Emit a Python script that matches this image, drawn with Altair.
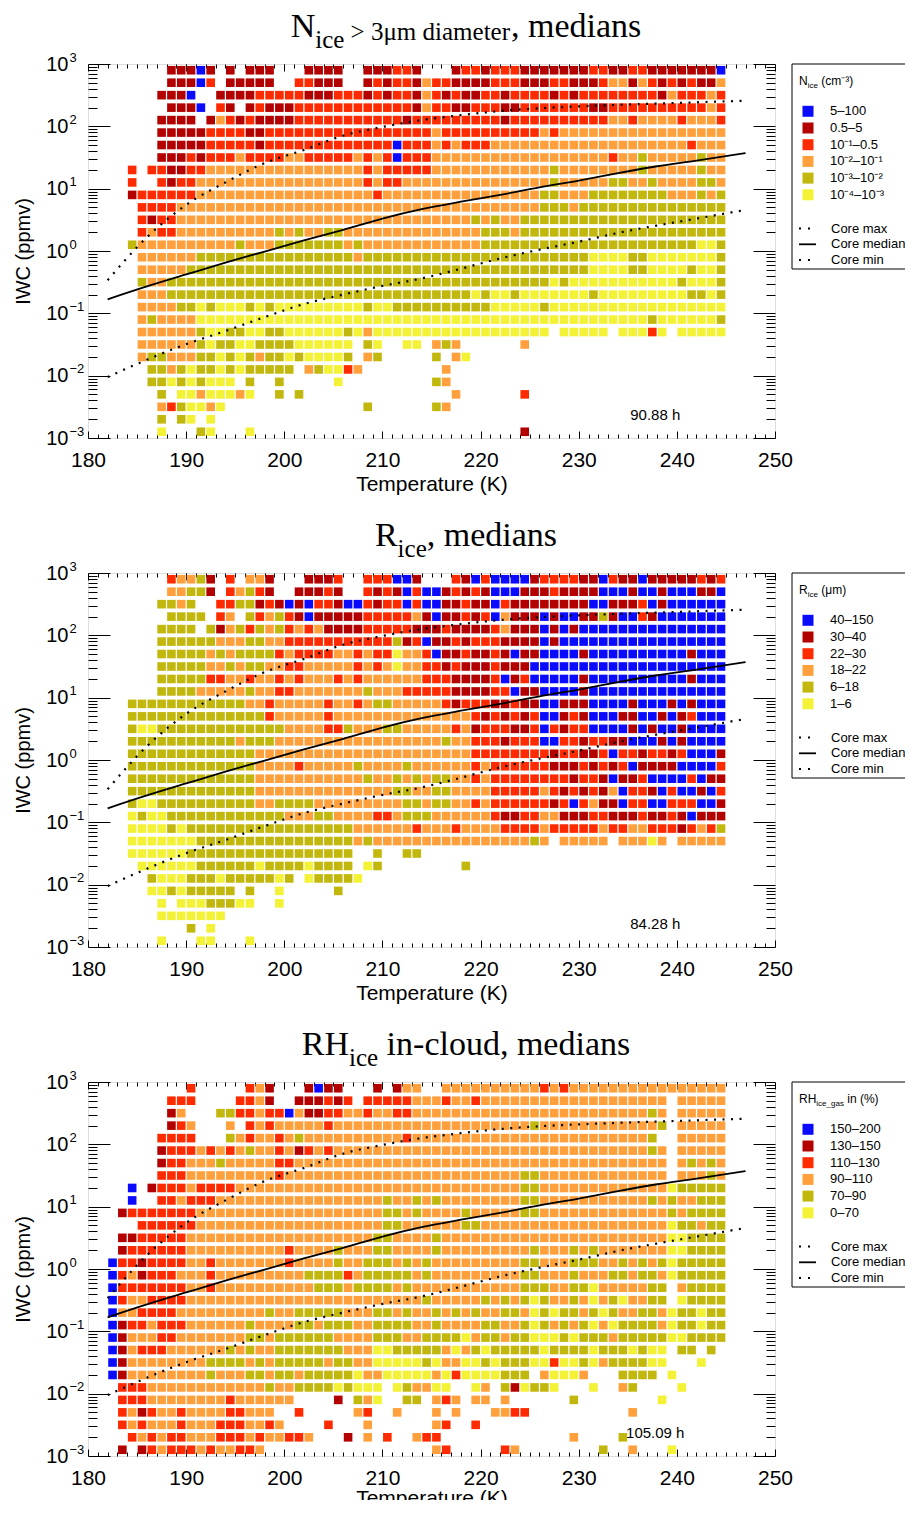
import pandas as pd
import altair as alt

alt.data_transformers.disable_max_rows()

# ---------------------------------------------------------------
# values
# cells: 1 K temperature bins (first centre 182.5 K), 0.2-decade IWC
# bins (top row centre 10^2.9 ppmv). One character per cell, colour
# class in legend order B D R O G Y, "." = no data.
# each row = cold part (182.5-212.5 K, 31 cells) + warm part (213.5-244.5 K, 32 cells)
# ---------------------------------------------------------------
CLASS_CODES = "BDROGY"
CLASS_COLORS = ["#0a0aff", "#b30000", "#ff2b00", "#ffa03c", "#c2b80d", "#f3f236"]

N_LABELS = ["5–100", "0.5–5", "10⁻¹–0.5", "10⁻²–10⁻¹", "10⁻³–10⁻²", "10⁻⁴–10⁻³"]
R_LABELS = ["40–150", "30–40", "22–30", "18–22", "6–18", "1–6"]
RH_LABELS = ["150–200", "130–150", "110–130", "90–110", "70–90", "0–70"]

N_TITLE = [("N", "big"), ("ice", "sub"), (" > 3μm diameter", "mid"), (", medians", "big")]
R_TITLE = [("R", "big"), ("ice", "sub"), (", medians", "big")]
RH_TITLE = [("RH", "big"), ("ice", "sub"), (" in-cloud, medians", "big")]
N_KEY_TITLE = [("N", "big"), ("ice", "sub"), (" (cm⁻³)", "big")]
R_KEY_TITLE = [("R", "big"), ("ice", "sub"), (" (μm)", "big")]
RH_KEY_TITLE = [("RH", "big"), ("ice_gas", "sub"), (" in (%)", "big")]
HOURS = ["90.88 h", "84.28 h", "105.09 h"]

CORE_KINDS = ["Core max", "Core median", "Core min"]
CORE_T = [182, 186, 190, 194, 198, 202, 206, 210, 214, 218, 222, 226, 230, 234, 238, 242, 247]
CORE_MAX = [0.34, 1.66, 5.5, 12.6, 25.7, 41.7, 70.8, 97.7, 126, 151, 176, 195, 209, 221, 232, 243, 257]
CORE_MEDIAN = [0.168, 0.27, 0.42, 0.65, 0.98, 1.48, 2.19, 3.31, 4.68, 6.17, 7.94, 10.5, 13.5, 17.8, 22.9, 28.2, 37.2]
CORE_MIN = [0.0095, 0.018, 0.032, 0.052, 0.087, 0.141, 0.20, 0.275, 0.363, 0.52, 0.76, 1.05, 1.41, 1.95, 2.57, 3.31, 4.57]

N_COLD = [
    "......DDDBD.D.DDD...DDDD..DDDRR",
    "......DDDBR.DDDDD..RRDDD..DRDRR",
    ".....DDDB..DDDDRRRRRDDDRRRDRDRR",
    "......DDDB.RD.DRDDDRRRRRRRRRRRR",
    ".....DDDD.DORDRDDDDRRRRRRRRRRRD",
    ".....DDDDDRRRRDDRRRRRRRRRRRRRRR",
    ".....DDDDDRRRRRDRRRRRRRRRRRRRBR",
    ".....DDDRDRRRORRRROORRRRRORORBR",
    "..R.RRDDRR" "OOOOOOOOOOOOOOOO" "RORRR",
    "..R..RDRR" "OOOOOOOOOOOOOOOOO" "RORRO",
    "..DRRRRRR" "OOOOOOOOOOOOOOOOOO" "ROOO",
    "...RRRR" "OOOOOOOOOOOOOOOOOOOOOOOO",
    "...RDRR" "OOOOOOOOOOOOOOOOOOOOOOOO",
    "...RORR" "OOOOOOOOOO" "GOGOOGG" "OOOOOOO",
    "..G" "OOOOOOOOOO" "GOOO" "GGGGGGG" "OG" "OOOOO",
    "...OOOOOO" "GGGGGGGGGGGGGGGG" "OGGGGG",
    "...OOOOO" "GGGGGGGGGGGGGGGGGGGGGGG",
    "...GOO" "GGGGGGGGGGGGGGGGGGGGGGGGG",
    "...OOO" "GGGGGGGGGGGGGGGGGGGGGGGGG",
    "...OOOOGGYGYYYGYGYYYYYYYYYGYYGG",
    "...OGOOOO" "YYYYYYYYYYYYYYYYYYYYYY",
    "...OOOOOOGYYGGYYGGYYYYYYGYOYYYY",
    "...OOOOOOGYGGYYGGGGYYYYYY.GY..Y",
    "...OGGOOOGGYGYGOGGYGYYYYG.OG...",
    "....GGOGYGGYGYGGGGG.OGYYRO.....",
    "....GGYGYGYYY.G..G.....Y.......",
    ".....G.YYOYYYOY..G.G...........",
    ".....ORGYYOY..............G....",
    ".....G.GY.Y....................",
    ".....Y...GY...Y................",
]
N_WARM = [
    "D...DRRDRRRDDDDDDDRRDDRRDDDDDDDB",
    "DORRDDDDRRRDDDRRDDDROODORDRDRDDO",
    "DORDRDDRRDRRRRDRDRRRRRRRRDORRROR",
    "DORRDDRRRDDRRRRRRRDDRRRRRRRRRROR",
    "RRRRRRRRRDRRRRRRRRRROOROOOOROOOR",
    "RRORRRRRRRRRRORO" "OOOOOOOOOOOOOOOO",
    "RRORORRRO" "OOOOOOOOOOOOOOOOOOO" "ROOO",
    "RRO" "OOOOOOOOOOOOOOOOO" "ROOGOOOOOGOO",
    "RRO" "OOOOOOOOOOO" "G" "OOOOOOOO" "G" "OOOOO" "GOO",
    "OOOOOOOOOOOOOO" "G" "OOOOO" "GGOOG" "OOOO" "GGO",
    "OOOOOOOOOOOOO" "GGOOO" "GGGGGGGG" "OOOGOG",
    "OOOOOOOOOOOOO" "GGGO" "GGGGGGGGGGGGGGG",
    "OOOOOOGOGOO" "GGGGGGGGGGGGGGGGGGGGG",
    "OOOOOOOGGGO" "GGGGGGGGGGGGGGGGGGGGG",
    "OOOOOOO" "GGGGGGGGGGGGGGGGGGGGGG" "YYG",
    "GGGGGGGGGGGGGGGGGG" "YYYYGG" "YYYYYYY" "G",
    "GGGGGGGGGGGGGGGGGG" "YYYYGGYYYYGYYG",
    "GGGGGGGGGGGGGG" "YG" "YYYYYYYYYYY" "GYYYG",
    "GGGGGGYGYYG" "YYYYYYY" "G" "YYYYYYYYY" "GGYG",
    "GGGGGGGG" "YYYYY" "G" "YYYYYYYYYYYYYYYYYY",
    "YYYYYYYYYYYYYYYYYYYYYYYY" "G" "YYYYYY" "G",
    "YYYYYYYYYYYYYY" "." "YYYYY" "." "YYYRY." "YYYYY",
    "Y.OGO" "......" "O",
    "..G.OY",
    "...O",
    "..GO",
    "....O" "......" "R",
    "..GO",
    "",
    "..........." "D",
]

R_COLD = [
    "......ROOGD.R.OOD...DDDR..RRRBB",
    "......OOGGD.ROGRD..DDDRD..RDRDB",
    ".....GGOG..RRGGDRDBDBRRDBBRDRRB",
    "......GGGG.RO.GROGRDBDDDDDRRRRR",
    ".....GGGG.GDOGRGOGRORODDDDRRRRR",
    ".....GGGGGGOOOGGOORRRRRRRRRRRGD",
    ".....GGGGGOGOGGGGRORRRROORORRYO",
    ".....GGGGGOOGOGGOORROOOOOROROYO",
    ".....GGGGGRROOROOROROOOROROOOOO",
    ".....GGGGOOOOOGOORROOOOOOOGOOOR",
    "..GGGGGGGGGGGG" "OOROOOOOROOROGGOO",
    "..GGGGGGGGGGGGGG" "R" "OOOOO" "R" "OOOOOOOO",
    "..GYY" "GGGGGGGGGGGGG" "OOOORRGOOOGGO",
    "..GGGGGGGGGGG" "O" "GGG" "OOOOOOOOOOOOOO",
    "..GGGGGGGGGGGGG" "OOOOOOOOOOOOOOOO",
    "..GGGGGGGGGGGGG" "OOOOROOOOOGOOOOG",
    "..GGGGGGGGGGGGG" "OOOOOOOOOOOGOOGO",
    "..GGGGGGGGGGGGG" "OOOOOOOOOOOOOO" "GG",
    "..GYY" "GGGGGGGGGG" "OOGGGGOOOOOOOOOG",
    "..YGYYG" "GGGGGGGGGGG" "OOOGGOOOORROG",
    "..YYYYGYG" "GGGGGGGGGGGGGGGG" "OOOOOO",
    "..YYYYYYY" "GGGGGGGGGGGGGGGG" "OGOOOO",
    "..YYYYYYG" "GGGGGGGGGGGGGGGG" "..G..G",
    "...YYYYYYGGGGGGYGGGGYGGGG.YG...",
    "....GYYYGGGYGGGGGYG.YGGGGY.....",
    "....YYGYGGGGG.G..Y.....G.......",
    ".....Y.YYYGGGYY..Y.............",
    ".....YYYYYYY...................",
    "........G.Y....................",
    ".....Y...YY...Y................",
]
R_WARM = [
    "D...RDBRBBBBDRRRRDDBRDDBDDDDDRDR",
    "RBBDRDRDBBBDDDRDDDDBBBDBBDBBBDDB",
    "RBBDDRDDBRDDDDDDDDBBDDDRBDBBBBBB",
    "ODBDDRDRBODDDBDBBDDGDBBRDBBBBBBB",
    "DDDRDDDDRODDDBDBD" "BBBBBBBBBBBBBBB",
    "RBDDRDRRRDDDDBDB" "BBBBBBBBBBBBBBBB",
    "ORBDDRDDRDBDDBBBBDB" "BBBBBBBBB" "DBBB",
    "ORRDRDDDRDDD" "BBBBBBBBBBBBBBBBBBBB",
    "ORRRDDDDRBDRBBBBBDB" "BBBBBBBBB" "DBBB",
    "RRRRDDDDRRBDDBBBBDB" "BBBBBBBBBBBBB",
    "OOORDRRRDDRDDBBDDDBBBBDBBBDBDBBB",
    "OOOOOORDRDRDRBBDRDBBBDDBBDBDRBBB",
    "OOOORODRRRDDRBRDRRBBBBDBDBBDBBBB",
    "OOOGOORRRDRRRBBRRDRRDDBBBDBDBBBB",
    "OOOOOORRRRRRRRDRRDDRBRRDRRDRBBBD",
    "OOOOOORORRRRRRDDDRDRDRBDDDDBBBBR",
    "GOGGOORORRRRRRRRDRRDBDDRBBBBRBDD",
    "OOGGOOOORRRRRORDRDRDOBRRDBRBBDBR",
    "GOGGOORORRRRRRDRBRODDBRRBBRRRBBD",
    "GGOOOOOORDDRROODDDRRDDDRDDRDBDDD",
    "ROOOROOOORRRRORRRRRORROORRRDRORG",
    "OOOOOOOOOOOO" "GO.OOOOO.OOOYO.OOOOO",
    "G",
    ".....G",
    "", "", "", "", "", "",
]

RH_COLD = [
    "........R.....ROD...DBDD...D.DO",
    "......RRR....RROD..DDDRDR.RRRRR",
    "......DO...GGRRORRBODDRROOROORR",
    "......DRO...O.ROR" "OOOOO" "R" "OOOOOOOO",
    ".....RRRR...GOROOROG" "OOOOOOOOOO" "R",
    ".....DRRRORORO" "GOOR" "ODROR" "OOOOOOOO",
    ".....DRROOOGOOOOORR" "OOOOOOOOOOOO",
    ".....RRR" "OOOOOOOOO" "R" "OOOOOOOOOOOOO",
    "..B.DRRRORRRR" "OOOOOOOOOOOOOOOOOO",
    "..B..RRORRRO" "OOOOOOOOOOOOOOOO" "GOO",
    ".DRRRRRRR" "OOOOOOOOOOOOOOOOOOO" "GGO",
    "...RRRRRR" "OOOOOOOOOOOOOOOOOOO" "GGO",
    ".DDRRRRR" "OOOOOOOOOOOOOOOOOOO" "GGOO",
    ".DRRRRRR" "OOOOOOOOOO" "R" "OOOO" "G" "OOO" "GGOO",
    "BRRDRRRR" "OOROOOOOOO" "R" "OOOO" "G" "OO" "GGG" "OG",
    "BRODRRRO" "OOROOOOOOOOO" "GGGG" "R" "O" "GGGGG",
    "BRRRRRRR" "OOROOOOOOOOOO" "GGG" "O" "GGGG" "OG",
    "BROORRRR" "OOOOOOOOOOOOOOOOOOOOOOO",
    "BOORRRRO" "OOOOOOOO" "G" "OO" "GGGGG" "OOO" "GGOG",
    "BDRRORRR" "OOOOOO" "G" "OOOO" "GG" "O" "GGG" "OO" "GGGG",
    "BDOOORRO" "OOOOOO" "GGOGGGGGG" "OOOO" "GGGO",
    "BDORRROO" "OOOO" "GOGOO" "GGGGGGG" "OOO" "YYGG",
    "BDOOOOOOOO" "GGGG" "OGO" "GGGGG" "OGG" "OO" "YYYY",
    "BD" "OOOOOOOO" "GOOOGGOGGOGGGGGYOOYYY",
    ".RRR" "OOOOOOOOOOOO" "GOOGGGGYGYYY.YG",
    ".RRR" "OOOOOOOO" "R" "OOOOOO" "...." "D" "." "GOY" ".." "G",
    "." "RODROORO" "OOO" "RR" "OOO" ".." "R" "....." "OR" ".." "O" ".",
    "." "RORO" "OORO" "OORR" "ROOR" "O" "...." "R" "..." "O" "....",
    ".." "RORORR" "OOO" "RRR" "OROO" "RRO" "..." "D" "." "O" "." "R" "..",
    ".D." "DRORRROROORRO",
]
RH_WARM = [
    "O.." "OOOOOOOOOO" "ROR" "OOOOOOOOOOOOOOOO",
    "OOOROOR" "OOOOOOOOOOOOOOOOOOO" "." "OOOOO",
    "OOOOOOOOOOOOOOOOOOOOOOOO" "GO." "OOOOO",
    "OOOOOOOOOOOO" "G" "OOOOOOOOOOOO" "G." "OOOOO",
    "OOOOOOOOOOOOOOOOOOOOOOOO" "G.." "OOOOO",
    "OOOOOOOOOOOOOOOOOOOOOOOO" "GO." "OOOOO",
    "OOOOOOOOOOOOOOOOOOOOOOOOOO" ".OGOGO",
    "OOOOOOOOOOO" "GG" "OOOOOOOOOOOOO" ".OOOGO",
    "OOOOOOOOOOO" "GG" "OOOOOOOOOOOOO" "YGGGGG",
    "GOG" "OOOOOOOO" "GG" "OOOOOOOOOOO" "GOGOOGGG",
    "GOOOOG" "OOOOO" "GG" "OOOOOOOOOOOOO" "GOGGGG",
    "OOOOOGG" "OOOOOOOOOOOOOOOOOOO" "YGGOGG",
    "OOG" "OOOOOOOOOOOOOOOOOOOOOOO" "YYGGGG",
    "OOG" "OOOOOOOOO" "G" "OOO" "G" "O" "G" "OOOOOOO" "YYGGGG",
    "OG" "OOOOOOOOO" "GG" "OOO" "GGG" "OO" "GOGOG" "Y" "GGGGG",
    "OG" "OOOOOOOOO" "GG" "OOO" "G" "OOO" "GG" "O" "GG" "O" "Y" "GGGGG",
    "OOOOOOOOOOO" "GGG" "OO" "GG" "Y" "OOOOO" "GG" "." "OGGGG",
    "OGOOOOOGOGOGYGOOGOYOGYOOGG.YGGGG",
    "OOGOGOGOOGGOYGYGGOGYGOOGGOYGGYGG",
    "OOGOOOOGGOOGYGOGOGYOYGGGGOYGGYGG",
    "OGGGGYOGGOGGYYYGYGGGOGGGGGYYGGGG",
    "GGGOYOGYGGGGGYGGGGYGGGYGYY.GG.G.",
    "YGYOOYYGYGGGYYRYYGYOGGGGYY...Y..",
    "YYOYRYYYYGGG.OYYYO...GGGG.Y.....",
    "OOYY..YO.GDYGGY...Y..OG....Y....",
    "G.ORO.OO.O......G........Y......",
    "..O.O...OORR..........O.........",
    "..OR..R.........................",
    "ORR.............O....G..........",
    "..OR.....RO........G..O...Y.....",
]

# ---------------------------------------------------------------
# layout / style
# ---------------------------------------------------------------
SANS = "Liberation Sans"
SERIF = "Liberation Serif"
W, H = 687, 374
T_FIRST, LOG_TOP, LOG_STEP = 182.5, 2.9, 0.2

SERIF_W = {"N": .722, "R": .667, "H": .722, "i": .278, "c": .444, "e": .444, " ": .25,
           ">": .564, "3": .5, "μ": .576, "m": .778, "d": .5, "a": .444, "t": .278,
           "r": .333, ",": .25, "n": .5, "s": .389, "-": .333, "l": .278, "o": .5, "u": .5}
SANS_W = {"N": .722, "R": .722, "H": .722, "i": .222, "c": .5, "e": .556, "_": .556,
          "g": .556, "a": .556, "s": .5, " ": .278, "(": .333, ")": .333, "m": .833,
          "μ": .576, "%": .889, "n": .556}
TITLE_STYLE = {"big": (34, 0), "sub": (25, 11), "mid": (25, 3)}
KEY_STYLE = {"big": (12, 0), "sub": (8, 3)}

X_SCALE = alt.Scale(domain=[180, 250], nice=False, zero=False)
Y_SCALE = alt.Scale(type="log", domain=[1e-3, 1e3], nice=False)
MAJ_X = list(range(180, 251, 10))
MIN_X = list(range(181, 250))
MAJ_Y = [10.0 ** e for e in range(-3, 4)]
MIN_Y = [m * 10.0 ** e for e in range(-3, 3) for m in range(2, 10)]
EXP_EXPR = ("datum.value < 0.005 ? '−3' : datum.value < 0.05 ? '−2' : "
            "datum.value < 0.5 ? '−1' : datum.value < 5 ? '0' : "
            "datum.value < 50 ? '1' : datum.value < 500 ? '2' : '3'")

ONE = pd.DataFrame({"k": [0]})


def _x_axis(title_pad):
    return alt.Axis(orient="bottom", values=MAJ_X, ticks=False, domain=False, grid=False,
                    labelFont=SANS, labelFontSize=21, labelPadding=11, labelFlush=False,
                    labelOverlap=False, labelColor="black", format="d",
                    title="Temperature (K)", titleFont=SANS, titleFontSize=21,
                    titleFontWeight="normal", titlePadding=title_pad, titleColor="black")


# "10" part of the decade labels ...
AX_Y = alt.Axis(orient="left", values=MAJ_Y, ticks=False, domain=False, grid=False,
                labelFont=SANS, labelFontSize=20, labelPadding=20, labelFlush=False,
                labelOverlap=False, labelColor="black", labelExpr="'10'",
                title="IWC (ppmv)", titleFont=SANS, titleFontSize=20,
                titleFontWeight="normal", titlePadding=12, titleColor="black")
# ... and its raised exponent
AX_Y_EXP = alt.Axis(orient="left", values=MAJ_Y, ticks=False, domain=False, grid=False,
                    labelFont=SANS, labelFontSize=13, labelPadding=19, labelAlign="left",
                    labelBaseline="middle", labelOffset=-7, labelFlush=False,
                    labelOverlap=False, labelColor="black", labelExpr=EXP_EXPR, title=None)


def _ticks(orient, values, size):
    # inward ticks: axis shifted into the plot by its own tick length
    return alt.Axis(orient=orient, values=values, tickSize=size, offset=-size,
                    labels=False, domain=False, grid=False, title=None,
                    tickColor="black", tickWidth=1)


def _cells(cold, warm, labels):
    recs = []
    for r, (c, w) in enumerate(zip(cold, warm)):
        row = c.ljust(31, ".")[:31] + w.ljust(32, ".")[:32]
        for p, ch in enumerate(row):
            if ch in CLASS_CODES:
                recs.append({"T": T_FIRST + p,
                             "iwc": 10 ** (LOG_TOP - LOG_STEP * r),
                             "cls": labels[CLASS_CODES.index(ch)]})
    return pd.DataFrame(recs)


def _run(pieces, style, widths, font, x, y, center=False):
    def wid(t, s):
        return sum(widths.get(ch, 0.55) for ch in t) * s

    sized = [(t, *style[k]) for t, k in pieces]
    if center:
        x = x - sum(wid(t, s) for t, s, _ in sized) / 2
    out = []
    for t, s, dy in sized:
        body = t.lstrip(" ")
        x += wid(t[: len(t) - len(body)], s)
        out.append(
            alt.Chart(ONE)
            .mark_text(text=body, font=font, fontSize=s, align="left",
                       baseline="alphabetic", color="black")
            .encode(x=alt.value(x), y=alt.value(y + dy))
        )
        x += wid(body, s)
    return out


def panel(cold, warm, labels, title, key_title, hours, x_title_pad=3):
    cells = _cells(cold, warm, labels)
    cscale = alt.Scale(domain=labels, range=CLASS_COLORS)
    core = pd.DataFrame({"T": CORE_T, "cmax": CORE_MAX, "cmed": CORE_MEDIAN, "cmin": CORE_MIN})

    squares = (
        alt.Chart(cells)
        .mark_square(size=74, opacity=1)
        .encode(
            x=alt.X("T:Q", scale=X_SCALE, axis=_x_axis(x_title_pad)),
            y=alt.Y("iwc:Q", scale=Y_SCALE, axis=AX_Y),
            color=alt.Color("cls:N", scale=cscale, legend=None),
        )
    )
    expo = (
        alt.Chart(core)
        .mark_point(opacity=0)
        .encode(x=alt.X("T:Q", scale=X_SCALE, axis=None),
                y=alt.Y("cmed:Q", scale=Y_SCALE, axis=AX_Y_EXP))
    )
    med = (
        alt.Chart(core)
        .mark_line(color="black", strokeWidth=1.8, interpolate="monotone")
        .encode(x=alt.X("T:Q", scale=X_SCALE, axis=_ticks("bottom", MAJ_X, 7)),
                y=alt.Y("cmed:Q", scale=Y_SCALE, axis=_ticks("left", MAJ_Y, 22)))
    )
    hi = (
        alt.Chart(core)
        .mark_line(color="black", strokeWidth=2.2, strokeDash=[2, 6.5], interpolate="monotone")
        .encode(x=alt.X("T:Q", scale=X_SCALE, axis=_ticks("bottom", MIN_X, 4)),
                y=alt.Y("cmax:Q", scale=Y_SCALE, axis=_ticks("left", MIN_Y, 9)))
    )
    lo = (
        alt.Chart(core)
        .mark_line(color="black", strokeWidth=2.2, strokeDash=[2, 6.5], interpolate="monotone")
        .encode(x=alt.X("T:Q", scale=X_SCALE, axis=_ticks("top", MAJ_X, 7)),
                y=alt.Y("cmin:Q", scale=Y_SCALE, axis=_ticks("right", MAJ_Y, 22)))
    )
    note = (
        alt.Chart(pd.DataFrame({"T": [237.8], "iwc": [0.0023], "txt": [hours]}))
        .mark_text(font=SANS, fontSize=15, color="black", align="center", baseline="middle")
        .encode(x=alt.X("T:Q", scale=X_SCALE, axis=_ticks("top", MIN_X, 4)),
                y=alt.Y("iwc:Q", scale=Y_SCALE, axis=_ticks("right", MIN_Y, 9)),
                text="txt:N")
    )

    # legend box at the right of the plot (runs off the right edge, as in the original)
    box = (
        alt.Chart(ONE)
        .mark_rect(filled=False, stroke="black", strokeWidth=1)
        .encode(x=alt.value(704), x2=alt.value(826), y=alt.value(0), y2=alt.value(205))
    )
    key = pd.DataFrame({"cls": labels, "ypx": [47.3 + 16.7 * i for i in range(len(labels))]})
    key_sq = (
        alt.Chart(key)
        .mark_square(size=121, opacity=1)
        .encode(x=alt.value(720), y=alt.Y("ypx:Q", scale=None, axis=None),
                color=alt.Color("cls:N", scale=cscale, legend=None))
    )
    key_txt = (
        alt.Chart(key)
        .mark_text(font=SANS, fontSize=13, align="left", baseline="middle", color="black")
        .encode(x=alt.value(742), y=alt.Y("ypx:Q", scale=None, axis=None), text="cls:N")
    )
    lines = pd.DataFrame({"kind": CORE_KINDS, "ypx": [164.5 + 15.8 * i for i in range(3)]})
    key_dot = (
        alt.Chart(lines)
        .transform_filter(alt.datum.kind != "Core median")
        .mark_rule(color="black", strokeWidth=2, strokeDash=[2, 7])
        .encode(x=alt.value(711), x2=alt.value(728), y=alt.Y("ypx:Q", scale=None, axis=None))
    )
    key_solid = (
        alt.Chart(lines)
        .transform_filter(alt.datum.kind == "Core median")
        .mark_rule(color="black", strokeWidth=1.8)
        .encode(x=alt.value(711), x2=alt.value(728), y=alt.Y("ypx:Q", scale=None, axis=None))
    )
    key_lab = (
        alt.Chart(lines)
        .mark_text(font=SANS, fontSize=13, align="left", baseline="middle", color="black")
        .encode(x=alt.value(743), y=alt.Y("ypx:Q", scale=None, axis=None), text="kind:N")
    )

    heads = _run(title, TITLE_STYLE, SERIF_W, SERIF, 378, -27, center=True)
    key_head = _run(key_title, KEY_STYLE, SANS_W, SANS, 711, 21)

    return (
        alt.layer(squares, expo, med, hi, lo, note, box, key_sq, key_txt, key_dot, key_solid,
                  key_lab, *heads, *key_head)
        .resolve_axis(x="independent", y="independent")
        .properties(width=W, height=H)
    )


p1 = panel(N_COLD, N_WARM, N_LABELS, N_TITLE, N_KEY_TITLE, HOURS[0])
p2 = panel(R_COLD, R_WARM, R_LABELS, R_TITLE, R_KEY_TITLE, HOURS[1])
# last axis title sits at the bottom edge of the figure: keep it tight to the labels
p3 = panel(RH_COLD, RH_WARM, RH_LABELS, RH_TITLE, RH_KEY_TITLE, HOURS[2], x_title_pad=-1)

# the figure is cropped at the right (legend boxes) and just below the last axis title
chart = (
    alt.vconcat(p1, p2, p3, spacing=135, bounds="flush")
    .resolve_scale(x="independent", y="independent", color="independent")
    .properties(padding={"left": 5, "top": 1, "right": -10, "bottom": -9})
    .configure_view(stroke="black", strokeWidth=1.4)
    .configure(background="white")
)

chart.save("out.html", embed_options={"renderer": "svg", "actions": False})
